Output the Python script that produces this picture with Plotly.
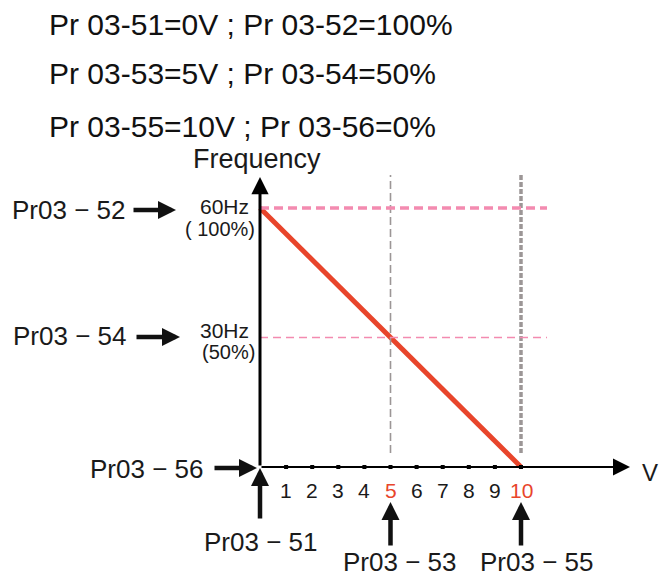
import plotly.graph_objects as go

# ---- data ----
volts = [0, 5, 10]          # Pr03-51, Pr03-53, Pr03-55 (V)
freqs = [60, 30, 0]         # Pr03-52, Pr03-54, Pr03-56 (Hz)
tick_vals = [1, 2, 3, 4, 5, 6, 7, 8, 9, 10]
tick_labels = ["1", "2", "3", "4", "5", "6", "7", "8", "9", "10"]
red_ticks = [5, 10]
header_lines = [
    "Pr 03-51=0V ; Pr 03-52=100%",
    "Pr 03-53=5V ; Pr 03-54=50%",
    "Pr 03-55=10V ; Pr 03-56=0%",
]
freq_labels = [("60Hz", "( 100%)"), ("30Hz", "(50%)")]
param_y = ["Pr03 − 52", "Pr03 − 54", "Pr03 − 56"]
param_x = ["Pr03 − 51", "Pr03 − 53", "Pr03 − 55"]

# ---- geometry (pixel calibration of the canvas) ----
W, H = 672, 579
X0, PXV = 260.0, 26.1        # origin px, px per volt
Y0, PXH = 467.0, 4.3167      # origin px, px per Hz
xr = [(0 - X0) / PXV, (W - X0) / PXV]
yr = [(Y0 - H) / PXH, Y0 / PXH]
def vx(px): return (px - X0) / PXV
def hy(py): return (Y0 - py) / PXH

FONT = "Liberation Sans, Arial, sans-serif"
RED = "#e8452b"
PINK = "#f38bb0"
GRAY = "#9c9696"

fig = go.Figure()

# dashed guides
shapes = []
shapes.append(dict(type="line", xref="x", yref="y", x0=volts[1], x1=volts[1],
                   y0=hy(453), y1=hy(175), line=dict(color=GRAY, width=1.6, dash="8px,4px")))
shapes.append(dict(type="line", xref="x", yref="y", x0=volts[2], x1=volts[2],
                   y0=hy(453), y1=hy(175), line=dict(color=GRAY, width=3.5, dash="5px,2px")))
shapes.append(dict(type="line", xref="x", yref="y", x0=0, x1=vx(547),
                   y0=freqs[0], y1=freqs[0], line=dict(color=PINK, width=3.5, dash="9px,5px")))
shapes.append(dict(type="line", xref="x", yref="y", x0=0, x1=vx(547),
                   y0=freqs[1], y1=freqs[1], line=dict(color=PINK, width=1.5, dash="8px,5px")))

# red characteristic line
fig.add_trace(go.Scatter(x=volts, y=freqs, mode="lines",
                         line=dict(color=RED, width=5), hoverinfo="skip"))
# tick dots
fig.add_trace(go.Scatter(x=tick_vals, y=[0] * len(tick_vals), mode="markers",
                         marker=dict(symbol="square", size=4, color="black"),
                         hoverinfo="skip"))

ann = []
# axes with arrowheads
ann.append(dict(x=0, y=hy(177), ax=0, ay=0, xref="x", yref="y", axref="x", ayref="y",
                showarrow=True, arrowhead=2, arrowwidth=3, arrowsize=1.15,
                arrowcolor="black", text=""))
ann.append(dict(x=vx(630), y=0, ax=0, ay=0, xref="x", yref="y", axref="x", ayref="y",
                showarrow=True, arrowhead=2, arrowwidth=2, arrowsize=1.7,
                arrowcolor="black", text=""))

# tick labels
for v, t in zip(tick_vals, tick_labels):
    ann.append(dict(x=v, y=hy(490), xref="x", yref="y", text=t, showarrow=False,
                    yanchor="middle",
                    font=dict(family=FONT, size=21,
                              color=RED if v in red_ticks else "#1a1a1a")))
ann.append(dict(x=vx(650), y=hy(472), xref="x", yref="y", text="V", showarrow=False,
                yanchor="middle", font=dict(family=FONT, size=24, color="#1a1a1a")))
ann.append(dict(x=vx(257), y=hy(159), xref="x", yref="y", text="Frequency", showarrow=False,
                yanchor="middle", font=dict(family=FONT, size=27, color="#1a1a1a")))

# frequency labels
for (hz_t, pct_t), f, dy in zip(freq_labels, freqs[:2], [(206, 229), (330, 352)]):
    ann.append(dict(x=vx(251), y=hy(dy[0]), xref="x", yref="y", text=hz_t, showarrow=False,
                    xanchor="right", yanchor="middle",
                    font=dict(family=FONT, size=21, color="#1a1a1a")))
    ann.append(dict(x=vx(257), y=hy(dy[1]), xref="x", yref="y", text=pct_t, showarrow=False,
                    xanchor="right", yanchor="middle",
                    font=dict(family=FONT, size=20, color="#1a1a1a")))

# parameter labels on left (frequency side)
left_specs = [(127, 210, 132, 176, 210), (128, 336, 135, 180, 337), (205, 469, 213, 257, 468)]
for t, (rx, cy, tail, tip, ay_) in zip(param_y, left_specs):
    ann.append(dict(x=vx(rx), y=hy(cy), xref="x", yref="y", text=t, showarrow=False,
                    xanchor="right", yanchor="middle",
                    font=dict(family=FONT, size=26, color="#1a1a1a")))
    ann.append(dict(x=vx(tip), y=hy(ay_), xref="x", yref="y", ax=tail - tip, ay=0,
                    showarrow=True, arrowhead=2, arrowwidth=4.5, arrowsize=0.8,
                    arrowcolor="#111111", text=""))

# parameter labels below (voltage side)
bottom_specs = [(260, 542, 520, 468), (399, 562, 547, 502), (536, 562, 547, 502)]
for t, v, (cx, cy, tail, tip) in zip(param_x, volts, bottom_specs):
    ann.append(dict(x=vx(cx), y=hy(cy), xref="x", yref="y", text=t, showarrow=False,
                    yanchor="middle",
                    font=dict(family=FONT, size=26, color="#1a1a1a")))
    ann.append(dict(x=v, y=hy(tip), xref="x", yref="y", ax=0, ay=tail - tip,
                    showarrow=True, arrowhead=2, arrowwidth=4.5, arrowsize=0.8,
                    arrowcolor="#111111", text=""))

# header text
for line, cy in zip(header_lines, [24, 74, 126]):
    ann.append(dict(x=47 / W, y=1 - cy / H, xref="paper", yref="paper", text=line,
                    showarrow=False, xanchor="left", yanchor="middle",
                    font=dict(family=FONT, size=30, color="#111111")))

fig.update_layout(
    width=W, height=H,
    margin=dict(l=0, r=0, t=0, b=0),
    paper_bgcolor="white", plot_bgcolor="white",
    showlegend=False,
    xaxis=dict(range=xr, visible=False, fixedrange=True),
    yaxis=dict(range=yr, visible=False, fixedrange=True),
    shapes=shapes, annotations=ann,
)

fig.write_html("out.html", config={"displayModeBar": False},
               post_script="document.body.style.margin='0';document.body.style.overflow='hidden';")
